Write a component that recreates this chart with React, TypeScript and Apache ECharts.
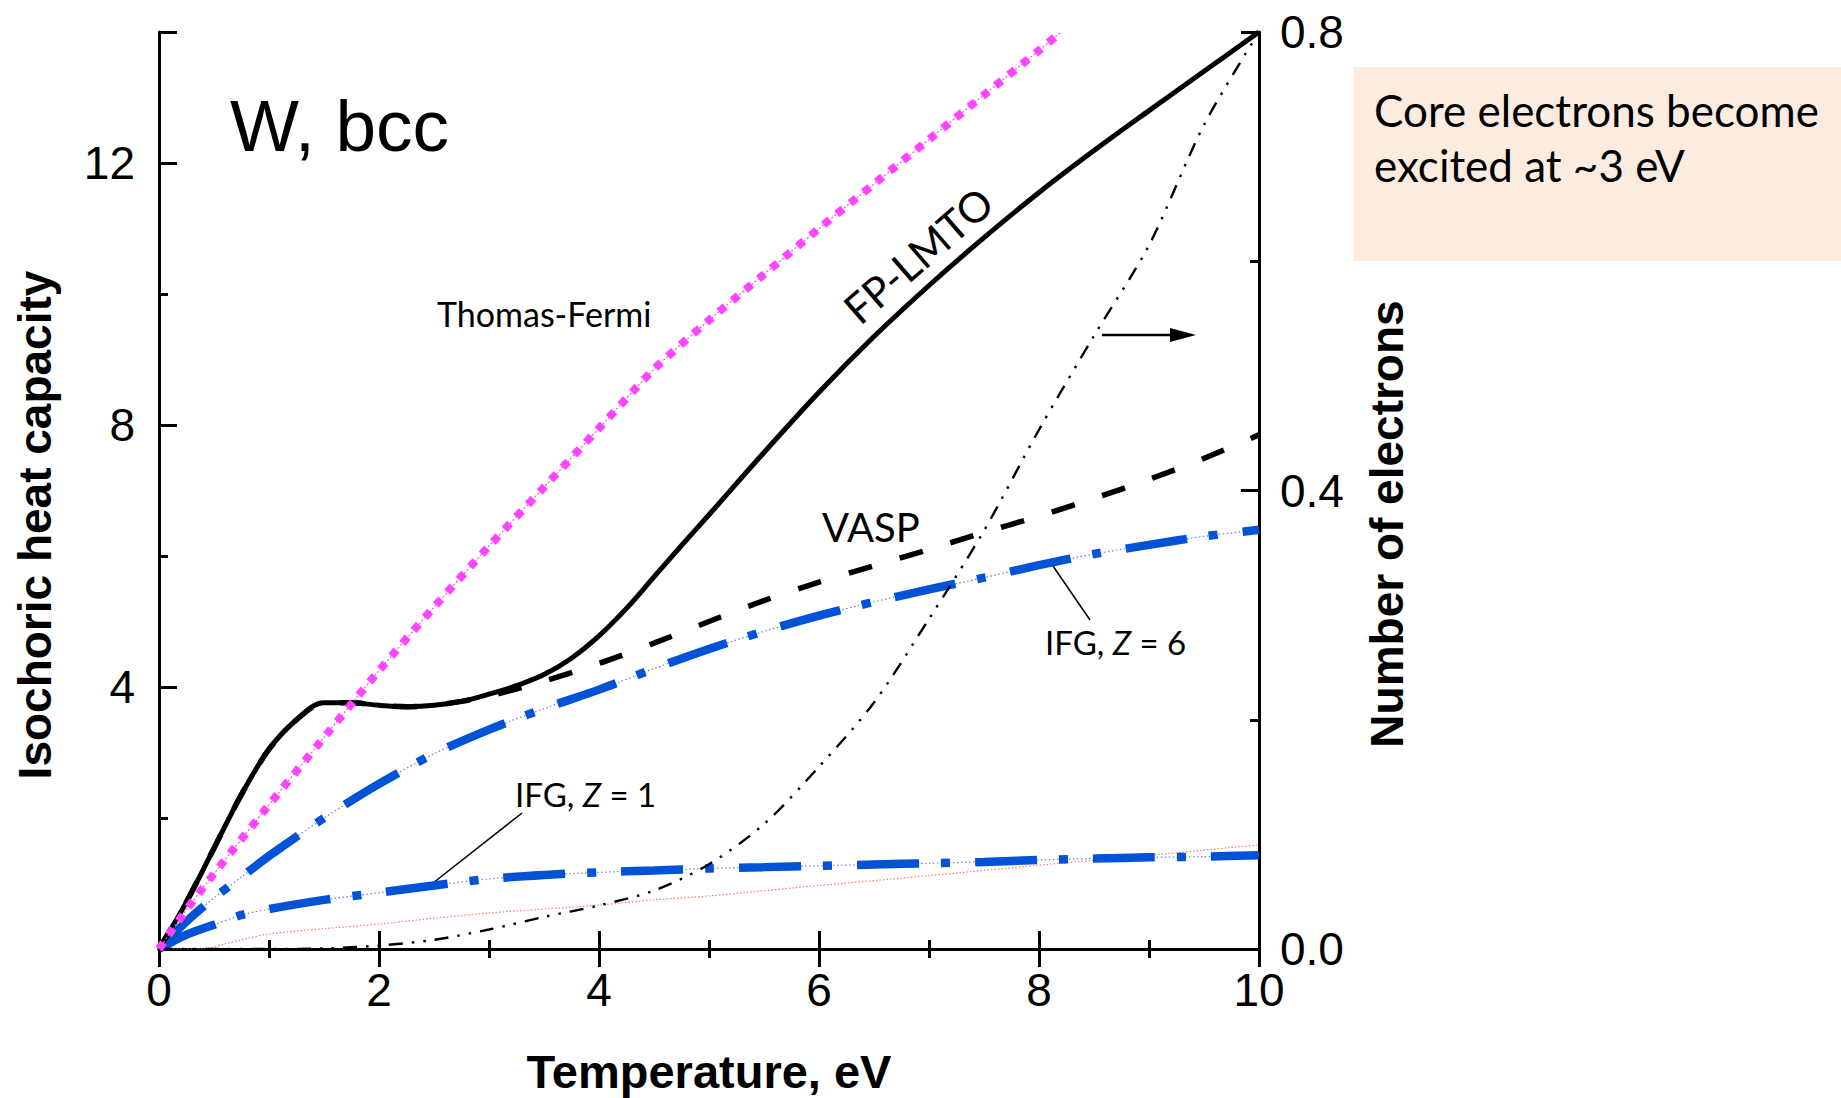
import React, { useEffect, useRef } from "react";
import * as echarts from "echarts";

// Temperature (eV) grids and values
const T_FP = [0, 0.25, 0.5, 0.75, 1.0, 1.25, 1.5, 1.75, 2.0, 2.25, 2.5, 2.75, 3.0, 3.25, 3.5, 3.75, 4.0, 4.25, 4.5, 4.75, 5.0, 5.5, 6.0, 6.5, 7.0, 7.5, 8.0, 8.5, 9.0, 9.5, 10];
const CV_FP = [0, 0.72, 1.54, 2.36, 3.05, 3.5, 3.76, 3.76, 3.72, 3.7, 3.72, 3.78, 3.89, 4.02, 4.19, 4.44, 4.78, 5.2, 5.68, 6.16, 6.63, 7.58, 8.5, 9.35, 10.13, 10.86, 11.55, 12.19, 12.8, 13.4, 14.0];

const T_VASP = [0, 0.25, 0.5, 0.75, 1.0, 1.25, 1.5, 1.75, 2.0, 2.25, 2.5, 2.75, 3.0, 3.5, 4.0, 4.5, 5.0, 5.5, 6.0, 6.5, 7.0, 7.5, 8.0, 8.5, 9.0, 9.5, 10];
const CV_VASP = [0, 0.72, 1.54, 2.36, 3.05, 3.5, 3.76, 3.76, 3.72, 3.7, 3.72, 3.78, 3.86, 4.09, 4.36, 4.67, 5.0, 5.32, 5.6, 5.85, 6.1, 6.36, 6.61, 6.88, 7.17, 7.49, 7.85];

const T_TF = [0, 0.25, 0.5, 1, 1.5, 2, 2.5, 3, 3.5, 4, 4.5, 5, 5.5, 6, 6.5, 7, 7.5, 8, 8.2];
const CV_TF = [0, 0.6, 1.15, 2.2, 3.23, 4.25, 5.22, 6.15, 7.05, 7.95, 8.85, 9.6, 10.3, 11.0, 11.68, 12.36, 13.04, 13.72, 14.0];

const T_IFG = [0, 0.25, 0.5, 0.75, 1.0, 1.5, 2.0, 2.5, 3.0, 3.5, 4.0, 4.5, 5.0, 5.5, 6.0, 6.5, 7.0, 7.5, 8.0, 8.5, 9.0, 9.5, 10];
const CV_Z6 = [0, 0.42, 0.78, 1.1, 1.42, 2.0, 2.52, 2.98, 3.35, 3.67, 3.96, 4.28, 4.58, 4.85, 5.09, 5.3, 5.49, 5.67, 5.86, 6.03, 6.17, 6.3, 6.4];
const CV_Z1 = [0, 0.22, 0.37, 0.52, 0.61, 0.75, 0.86, 0.97, 1.07, 1.13, 1.17, 1.2, 1.23, 1.25, 1.27, 1.29, 1.31, 1.33, 1.36, 1.38, 1.4, 1.41, 1.43];

const T_RED = [0, 0.4, 0.6, 0.8, 1.0, 1.5, 2.0, 2.5, 3.0, 3.5, 4.0, 4.5, 5.0, 6.0, 7.0, 8.0, 9.0, 10];
const CV_RED = [0, 0, 0.08, 0.16, 0.23, 0.31, 0.38, 0.47, 0.55, 0.61, 0.67, 0.75, 0.81, 0.97, 1.12, 1.28, 1.43, 1.59];

// Number of excited core electrons (right axis)
const T_NE = [0, 1.0, 1.5, 2.0, 2.5, 3.0, 3.5, 4.0, 4.5, 5.0, 5.5, 6.0, 6.5, 7.0, 7.5, 8.0, 8.5, 9.0, 9.5, 10];
const N_NE = [0, 0, 0.0005, 0.003, 0.008, 0.017, 0.028, 0.038, 0.051, 0.074, 0.109, 0.159, 0.215, 0.288, 0.365, 0.453, 0.535, 0.614, 0.719, 0.8];

const X_TICKS = { min: 0, max: 10, interval: 2 };
const Y_LEFT = { min: 0, max: 14 };
const Y_RIGHT = { min: 0, max: 0.8, interval: 0.4 };

const zip = (xs: number[], ys: number[]) => xs.map((x, i) => [x, ys[i]]);

const SANS = "'Liberation Sans', Arial, sans-serif";
const CAL = "Lato, 'Open Sans', sans-serif";
const BLUE = "#0052D6";

export default function App() {
  const ref = useRef<HTMLDivElement>(null);
  useEffect(() => {
    if (!ref.current) return;
    const chart = echarts.init(ref.current, null, { renderer: "svg" });
    const axisLine = { show: true, lineStyle: { color: "#000", width: 3 } };
    const baseLine = (name: string, data: number[][], lineStyle: any, yAxisIndex = 0, z = 2, smooth = 0.3) => ({
      type: "line",
      name,
      data,
      yAxisIndex,
      showSymbol: false,
      symbol: "none",
      smooth,
      silent: true,
      z,
      lineStyle,
    });
    const option: any = {
      animation: false,
      backgroundColor: "#fff",
      grid: { left: 159, right: 582, top: 32, bottom: 149, containLabel: false },
      xAxis: [
        {
          type: "value",
          position: "bottom",
          ...X_TICKS,
          axisLine,
          axisTick: { show: true, inside: true, length: 18, lineStyle: { color: "#000", width: 3 } },
          minorTick: { show: true, splitNumber: 2, length: 9, lineStyle: { color: "#000", width: 3 } },
          axisLabel: { show: true, fontSize: 46, fontFamily: SANS, color: "#000", margin: 18 },
          splitLine: { show: false },
        },
        {
          type: "value",
          position: "top",
          ...X_TICKS,
          axisLine,
          axisTick: { show: true, inside: true, length: 18, lineStyle: { color: "#000", width: 3 } },
          minorTick: { show: true, splitNumber: 2, length: 9, lineStyle: { color: "#000", width: 3 } },
          axisLabel: { show: false },
          splitLine: { show: false },
        },
      ],
      yAxis: [
        {
          type: "value",
          position: "left",
          ...Y_LEFT,
          interval: 2,
          axisLine,
          axisTick: { show: true, inside: true, length: 9, lineStyle: { color: "#000", width: 3 } },
          axisLabel: { show: false },
          splitLine: { show: false },
        },
        {
          type: "value",
          position: "left",
          ...Y_LEFT,
          interval: 4,
          axisLine: { show: false },
          axisTick: { show: true, inside: true, length: 18, lineStyle: { color: "#000", width: 3 } },
          axisLabel: {
            show: true,
            fontSize: 46,
            fontFamily: SANS,
            color: "#000",
            margin: 24,
            formatter: (v: number) => (v > 0 && v < 14 && v % 4 === 0 ? String(v) : ""),
          },
          splitLine: { show: false },
        },
        {
          type: "value",
          position: "right",
          ...Y_RIGHT,
          axisLine,
          axisTick: { show: true, inside: true, length: 18, lineStyle: { color: "#000", width: 3 } },
          minorTick: { show: true, splitNumber: 2, length: 9, lineStyle: { color: "#000", width: 3 } },
          axisLabel: {
            show: true,
            fontSize: 46,
            fontFamily: SANS,
            color: "#000",
            margin: 21,
            formatter: (v: number) => v.toFixed(1),
          },
          splitLine: { show: false },
        },
      ],
      series: [
        baseLine("Red", zip(T_RED, CV_RED), { color: "#FF7A7A", width: 1.2, type: [1.5, 2] }, 0, 1),
        baseLine("IFG Z=6 thin", zip(T_IFG, CV_Z6), { color: "#6878FF", width: 1.2, type: [1.5, 2.5] }, 0, 1),
        baseLine("IFG Z=1 thin", zip(T_IFG, CV_Z1), { color: "#6878FF", width: 1.2, type: [1.5, 2.5] }, 0, 1),
        baseLine("IFG, Z = 1", zip(T_IFG, CV_Z1), { color: BLUE, width: 8.5, type: [62, 22, 9, 25], cap: "butt" }, 0, 2),
        baseLine("IFG, Z = 6", zip(T_IFG, CV_Z6), { color: BLUE, width: 8.5, type: [62, 22, 9, 25], cap: "butt" }, 0, 2),
        baseLine("Number of electrons", zip(T_NE, N_NE), { color: "#000", width: 2.4, type: [14, 9, 2.5, 9, 2.5, 9], cap: "butt" }, 2, 3),
        baseLine("VASP", zip(T_VASP, CV_VASP), { color: "#000", width: 5.5, type: [24, 29], cap: "butt" }, 0, 3),
        baseLine("FP-LMTO", zip(T_FP, CV_FP), { color: "#000", width: 5, type: "solid" }, 0, 4, 0.35),
        baseLine("TF thin", zip(T_TF, CV_TF), { color: "#FF44FF", width: 1.2, type: [2, 2] }, 0, 4),
        baseLine("Thomas-Fermi", zip(T_TF, CV_TF), { color: "#FF44FF", width: 8, type: [8, 9], cap: "butt" }, 0, 5),
      ],
      graphic: [
        { type: "rect", shape: { x: 1354, y: 67, width: 487, height: 194 }, style: { fill: "#FCEBDF" }, z: 0 },
        { type: "text", x: 1374, y: 110, style: { text: "Core electrons become", fontSize: 44, fontFamily: CAL, fill: "#000", align: "left", verticalAlign: "middle" } },
        { type: "text", x: 1374, y: 165, style: { text: "excited at ~3 eV", fontSize: 44, fontFamily: CAL, fill: "#000", align: "left", verticalAlign: "middle" } },
        { type: "text", x: 230, y: 125, style: { text: "W, bcc", fontSize: 73, fontFamily: SANS, fill: "#000", align: "left", verticalAlign: "middle" } },
        { type: "text", x: 437, y: 313, style: { text: "Thomas-Fermi", fontSize: 34, fontFamily: CAL, fill: "#000", align: "left", verticalAlign: "middle" } },
        { type: "text", x: 822, y: 527, style: { text: "VASP", fontSize: 40, fontFamily: CAL, fill: "#000", align: "left", verticalAlign: "middle" } },
        { type: "text", x: 918, y: 255, rotation: 0.716, style: { text: "FP-LMTO", fontSize: 42, fontFamily: CAL, fill: "#000", align: "center", verticalAlign: "middle" } },
        {
          type: "text", x: 515, y: 794,
          style: {
            text: "{n|IFG, }{i|Z}{n| = 1}", align: "left", verticalAlign: "middle",
            rich: { n: { fontSize: 33, fontFamily: CAL, fill: "#000" }, i: { fontSize: 33, fontFamily: CAL, fontStyle: "italic", fill: "#000" } },
          },
        },
        {
          type: "text", x: 1045, y: 642,
          style: {
            text: "{n|IFG, }{i|Z}{n| = 6}", align: "left", verticalAlign: "middle",
            rich: { n: { fontSize: 33, fontFamily: CAL, fill: "#000" }, i: { fontSize: 33, fontFamily: CAL, fontStyle: "italic", fill: "#000" } },
          },
        },
        { type: "line", shape: { x1: 522, y1: 813, x2: 433, y2: 883 }, style: { stroke: "#000", lineWidth: 1.5 } },
        { type: "line", shape: { x1: 1090, y1: 620, x2: 1053, y2: 566 }, style: { stroke: "#000", lineWidth: 1.5 } },
        { type: "line", shape: { x1: 1102, y1: 335, x2: 1174, y2: 335 }, style: { stroke: "#000", lineWidth: 2.5 } },
        { type: "polygon", shape: { points: [[1170, 328], [1196, 335], [1170, 342]] }, style: { fill: "#000" } },
        { type: "text", x: 709, y: 1071, style: { text: "Temperature, eV", fontSize: 47, fontWeight: "bold", fontFamily: SANS, fill: "#000", align: "center", verticalAlign: "middle" } },
        { type: "text", x: 35, y: 525, rotation: Math.PI / 2, style: { text: "Isochoric heat capacity", fontSize: 46, fontWeight: "bold", fontFamily: SANS, fill: "#000", align: "center", verticalAlign: "middle" } },
        { type: "text", x: 1387, y: 524, rotation: Math.PI / 2, style: { text: "Number of electrons", fontSize: 46, fontWeight: "bold", fontFamily: SANS, fill: "#000", align: "center", verticalAlign: "middle" } },
      ],
    };
    chart.setOption(option);
    return () => chart.dispose();
  }, []);
  return (
    <div
      ref={ref}
      style={{ position: "fixed", left: 0, top: 0, width: 1841, height: 1098, background: "#fff" }}
    />
  );
}
